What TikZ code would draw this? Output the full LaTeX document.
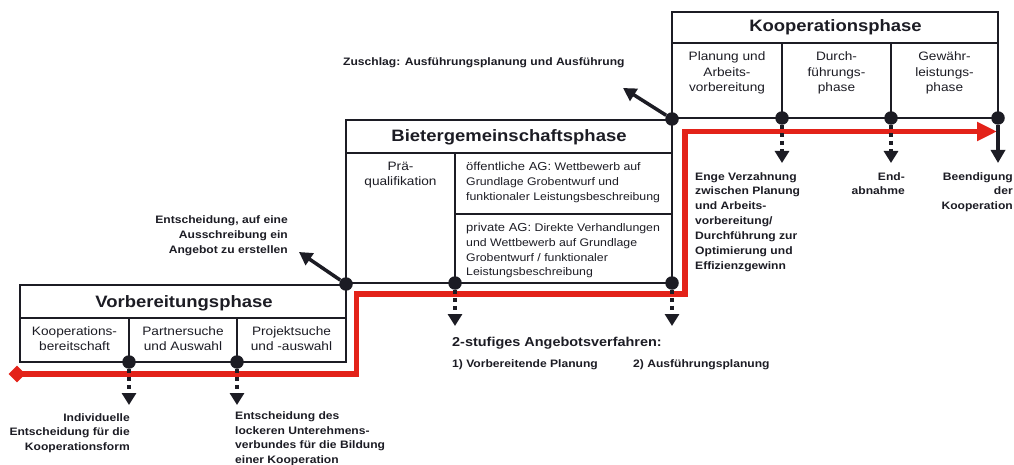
\documentclass[tikz,border=0pt]{standalone}
\usepackage{fontspec}
\setmainfont[FakeStretch=1.12]{Liberation Sans}
\usetikzlibrary{arrows.meta,shapes.geometric}
\definecolor{redline}{HTML}{E32219}
\definecolor{ink}{HTML}{1C1C24}
\begin{document}
\begin{tikzpicture}[x=1pt,y=-1pt,
 frame/.style={draw=ink, line width=1.8pt},
 joint/.style={circle, fill=ink, inner sep=0pt, minimum size=13.5pt},
 hdr/.style={font=\bfseries\fontsize{16.5}{20}\selectfont, text=ink, inner sep=0pt, anchor=base},
 cell/.style={font=\fontsize{12.2}{15}\selectfont, text=ink, inner sep=0pt, align=center, anchor=north},
 celll/.style={font=\fontsize{11}{15}\selectfont, text=ink, inner sep=0pt, align=left, anchor=north west},
 note/.style={font=\bfseries\fontsize{10.8}{14.9}\selectfont, text=ink, inner sep=0pt},
 flow/.style={draw=redline, line width=5.8pt},
 push/.style={draw=ink, line width=3.5pt, -{Triangle[length=13pt,width=14pt]}},
 hint/.style={draw=ink, line width=4.5pt, dash pattern=on 4pt off 4pt, -{Triangle[length=12pt,width=14pt]}}
]
\useasboundingbox (0,0) rectangle (1014,465);

% --- boxes
\draw[frame] (20,285) rectangle (346,362);
\draw[frame] (20,318) -- (346,318);
\draw[frame] (129,318) -- (129,362);
\draw[frame] (237,318) -- (237,362);

\draw[frame] (346,120) rectangle (672,283);
\draw[frame] (346,153) -- (672,153);
\draw[frame] (455,153) -- (455,283);
\draw[frame] (455,214) -- (672,214);

\draw[frame] (672,12) rectangle (998,118);
\draw[frame] (672,43) -- (998,43);
\draw[frame] (782,43) -- (782,118);
\draw[frame] (891,43) -- (891,118);

% --- headers and cells
\node[hdr] (hv) at (184,307) {Vorbereitungsphase};
\node[cell] (cv1) at (74.5,326.5) {Kooperations-\\bereitschaft};
\node[cell] (cv2) at (183,326.5) {Partnersuche\\und Auswahl};
\node[cell] (cv3) at (291.5,326.5) {Projektsuche\\und -auswahl};

\node[hdr] (hb) at (509,142) {Bietergemeinschaftsphase};
\node[cell] (cb1) at (400.5,161.5) {Prä-\\qualifikation};
\node[celll] (cb2) at (466,161.5) {{\fontsize{11.6}{15}\selectfont öffentliche AG:} Wettbewerb auf\\Grundlage Grobentwurf und\\funktionaler Leistungsbeschreibung};
\node[celll, font=\fontsize{11}{14.7}\selectfont] (cb3) at (466,223) {{\fontsize{11.6}{14.7}\selectfont private AG:} Direkte Verhandlungen\\und Wettbewerb auf Grundlage\\Grobentwurf / funktionaler\\Leistungsbeschreibung};

\node[hdr] (hk) at (835.5,32) {Kooperationsphase};
\node[cell, font=\fontsize{12.2}{15.5}\selectfont] (ck1) at (727,51.5) {Planung und\\Arbeits-\\vorbereitung};
\node[cell, font=\fontsize{12.2}{15.5}\selectfont] (ck2) at (836.5,51.5) {Durch-\\führungs-\\phase};
\node[cell, font=\fontsize{12.2}{15.5}\selectfont] (ck3) at (944.5,51.5) {Gewähr-\\leistungs-\\phase};

% --- red process line
\node[diamond, fill=redline, inner sep=0pt, minimum width=17pt, minimum height=17pt] (start) at (17,374) {};
\coordinate (flowend) at (997,131.5);
\draw[flow, -{Triangle[length=20pt,width=18pt]}] (start.center) -- (356.5,374) -- (356.5,294) -- (685,294) -- (685,131.5) -- (flowend);

% --- joints
\node[joint] (v1) at (129,362) {};
\node[joint] (v2) at (237,362) {};
\node[joint] (v3) at (346,284) {};
\node[joint] (b1) at (455,283) {};
\node[joint] (b2) at (672,283) {};
\node[joint] (b3) at (672,119) {};
\node[joint] (k1) at (782,118) {};
\node[joint] (k2) at (891,118) {};
\node[joint] (k3) at (998,118) {};

% --- labels
\node[note, align=right, anchor=north east] (l1) at (130,413) {Individuelle\\Entscheidung für die\\Kooperationsform};
\node[note, align=left, anchor=north west, font=\bfseries\fontsize{10.8}{14.5}\selectfont] (l2) at (235,411.5) {Entscheidung des\\lockeren Unterehmens-\\verbundes für die Bildung\\einer Kooperation};
\node[note, align=right, anchor=north east] (l3) at (288,215.5) {Entscheidung, auf eine\\Ausschreibung ein\\Angebot zu erstellen};
\node[note, anchor=base west] (l4) at (343,66) {Zuschlag: Ausführungsplanung und Ausführung};
\node[note, anchor=base west, font=\bfseries\fontsize{12.9}{15}\selectfont] (l5) at (452,346.5) {2-stufiges Angebotsverfahren:};
\node[note, anchor=base west] (l6) at (452,367.5) {1) Vorbereitende Planung};
\node[note, anchor=base west] (l7) at (633,367.5) {2) Ausführungsplanung};
\node[note, align=left, anchor=north west] (l8) at (695,172) {Enge Verzahnung\\zwischen Planung\\und Arbeits-\\vorbereitung/\\Durchführung zur\\Optimierung und\\Effizienzgewinn};
\node[note, align=right, anchor=north east] (l9) at (905,172) {End-\\abnahme};
\node[note, align=right, anchor=north east] (l10) at (1013,172) {Beendigung\\der\\Kooperation};

% --- arrows
\coordinate (t1) at (129,405);
\coordinate (t2) at (237,405);
\coordinate (t3) at (455,326);
\coordinate (t4) at (672,326);
\coordinate (t5) at (782,163);
\coordinate (t6) at (891,163);
\coordinate (t7) at (998,163);
\coordinate (t8) at (299,252);
\coordinate (t9) at (623,88);

\draw[hint] (v1) -- (t1);
\draw[hint] (v2) -- (t2);
\draw[hint] (b1) -- (t3);
\draw[hint] (b2) -- (t4);
\draw[hint] (k1) -- (t5);
\draw[hint] (k2) -- (t6);
\draw[push] (k3) -- (t7);
\draw[push] (v3) -- (t8);
\draw[push] (b3) -- (t9);
\end{tikzpicture}
\end{document}
